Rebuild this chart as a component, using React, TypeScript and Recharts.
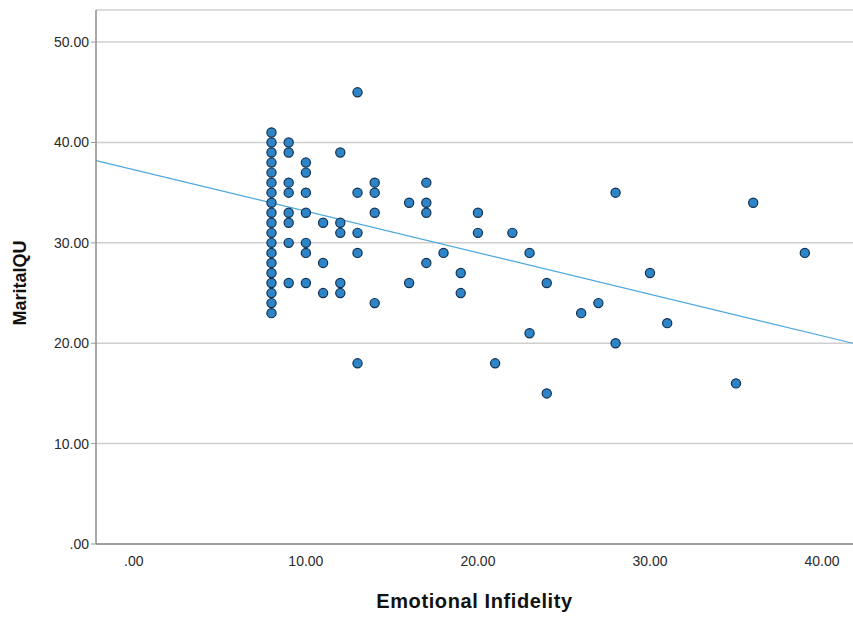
import React from 'react';
import {
  CartesianGrid,
  Label,
  ReferenceLine,
  Scatter,
  ScatterChart,
  XAxis,
  YAxis,
} from 'recharts';

// Emotional Infidelity (x) vs MaritalQU (y), one entry per visible dot
const infidelity = [
  8, 8, 8, 8, 8, 8, 8, 8, 8, 8, 8, 8, 8, 8, 8, 8, 8, 8, 8,
  9, 9, 9, 9, 9, 9, 9, 9,
  10, 10, 10, 10, 10, 10, 10,
  11, 11, 11,
  12, 12, 12, 12, 12,
  13, 13, 13, 13, 13,
  14, 14, 14, 14,
  16, 16,
  17, 17, 17, 17,
  18,
  19, 19,
  20, 20,
  21,
  22,
  23, 23,
  24, 24,
  26, 27,
  28, 28,
  30, 31, 35, 36, 39,
];
const maritalQU = [
  23, 24, 25, 26, 27, 28, 29, 30, 31, 32, 33, 34, 35, 36, 37, 38, 39, 40, 41,
  40, 39, 36, 35, 33, 32, 30, 26,
  38, 37, 35, 33, 30, 29, 26,
  32, 28, 25,
  39, 32, 31, 26, 25,
  45, 35, 31, 29, 18,
  36, 35, 33, 24,
  34, 26,
  36, 34, 33, 28,
  29,
  27, 25,
  33, 31,
  18,
  31,
  29, 21,
  26, 15,
  23, 24,
  35, 20,
  27, 22, 16, 34, 29,
];

// fit line end points as read at the plot edges
const fitX = [-2.2, 41.8];
const fitY = [38.2, 20.0];

const xTicks = [0, 10, 20, 30, 40];
const yTicks = [0, 10, 20, 30, 40, 50];

const points = infidelity.map((x, i) => ({ x, y: maritalQU[i] }));
const fitSegment = fitX.map((x, i) => ({ x, y: fitY[i] }));

const fmt = (v: number) => (v === 0 ? '.00' : v.toFixed(2));

const FONT = '"Liberation Sans", Arial, sans-serif';

const Dot = (props: any) => (
  <circle
    cx={props.cx}
    cy={props.cy}
    r={4.6}
    fill='#2d85c8'
    stroke='#12304f'
    strokeWidth={1.2}
  />
);

const YTitle = () => (
  <text
    x={20}
    y={283}
    transform='rotate(-90 20 283)'
    textAnchor='middle'
    dominantBaseline='central'
    fill='#111'
    fontSize={18}
    fontWeight='bold'
    fontFamily={FONT}
  >
    MaritalQU
  </text>
);

export default function App() {
  return (
    <div style={{ width: 853, height: 617, background: '#fff' }}>
      <style>{'body{margin:0}'}</style>
      <ScatterChart
        width={853}
        height={617}
        margin={{ top: 10, right: 0, left: 8, bottom: 0 }}
      >
        <CartesianGrid
          vertical={false}
          stroke='#cfcfcf'
          strokeWidth={1.5}
        />
        <XAxis
          type='number'
          dataKey='x'
          domain={[fitX[0], fitX[1]]}
          ticks={xTicks}
          tickFormatter={fmt}
          allowDataOverflow
          height={73}
          axisLine={{ stroke: '#8c8c8c', strokeWidth: 1.5 }}
          tickLine={false}
          tickMargin={6}
          tick={{ fill: '#2a2a2a', fontSize: 14, fontFamily: FONT }}
        >
          <Label
            value='Emotional Infidelity'
            position='insideBottom'
            offset={9}
            style={{
              fill: '#111',
              fontSize: 20,
              fontWeight: 'bold',
              fontFamily: FONT,
              letterSpacing: 0.6,
            }}
          />
        </XAxis>
        <YAxis
          type='number'
          dataKey='y'
          domain={[0, 53.2]}
          ticks={yTicks}
          tickFormatter={fmt}
          allowDataOverflow
          width={88}
          axisLine={{ stroke: '#8c8c8c', strokeWidth: 1.5 }}
          tickLine={{ stroke: '#9a9a9a' }}
          tickSize={5}
          tickMargin={2}
          tick={{ fill: '#2a2a2a', fontSize: 14, fontFamily: FONT }}
        >
          <Label content={YTitle} />
        </YAxis>
        <ReferenceLine
          segment={fitSegment}
          stroke='#4aa6df'
          strokeWidth={1.2}
          ifOverflow='hidden'
        />
        <Scatter
          data={points}
          shape={Dot}
          isAnimationActive={false}
        />
      </ScatterChart>
    </div>
  );
}
